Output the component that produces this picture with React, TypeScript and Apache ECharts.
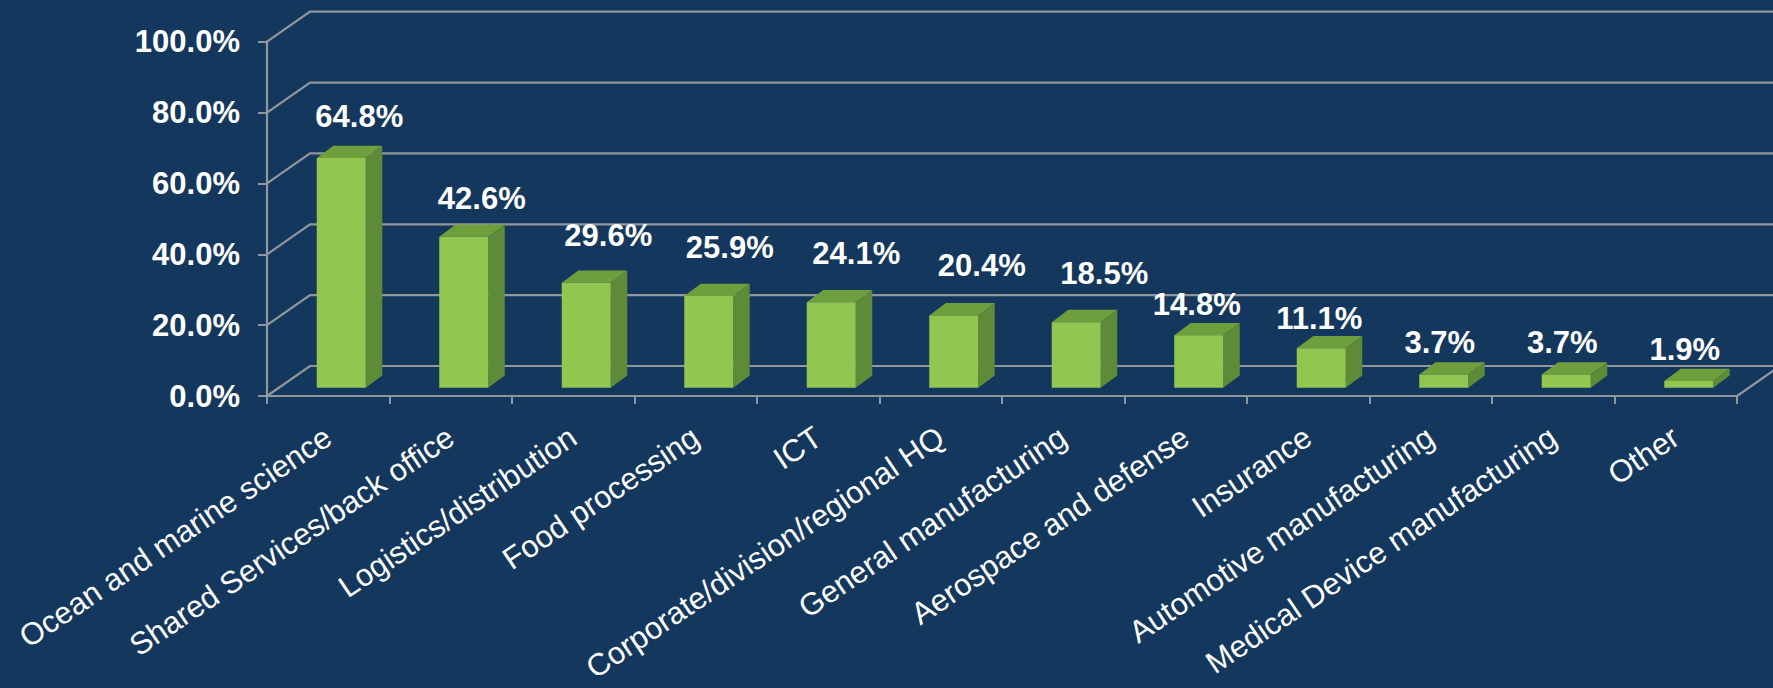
import React, { useEffect, useRef } from "react";
import * as echarts from "echarts";

const categories = [
  "Ocean and marine science",
  "Shared Services/back office",
  "Logistics/distribution",
  "Food processing",
  "ICT",
  "Corporate/division/regional HQ",
  "General manufacturing",
  "Aerospace and defense",
  "Insurance",
  "Automotive manufacturing",
  "Medical Device manufacturing",
  "Other",
];
const values = [64.8, 42.6, 29.6, 25.9, 24.1, 20.4, 18.5, 14.8, 11.1, 3.7, 3.7, 1.9];
const yTicks = [0, 20, 40, 60, 80, 100];

// label nudges (layout only)
const labelDX = [18, 18, 22, 21, 25, 28, 28, -2, -2, -4, -4, -4];
const labelDY = [-42, -38, -47, -48, -49, -50, -49, -31, -30, -32, -32, -31];

const FONT = '"Liberation Sans", Arial, sans-serif';
const BG = "#14375D";
const GRID_COLOR = "#9197 9D".replace(" ", "");
const WALL_DX = 43;
const WALL_DY = 30;
const FRONT_DX = 13;
const FRONT_DY = 8.3;
const DEPTH_DX = 16.5;
const DEPTH_DY = 12.3;

export default function App() {
  const ref = useRef<HTMLDivElement>(null);
  useEffect(() => {
    if (!ref.current) return;
    const chart = echarts.init(ref.current, undefined, { renderer: "svg" });
    const option: any = {
      animation: false,
      backgroundColor: BG,
      grid: { left: 267, right: 36, top: 41.7, bottom: 292, containLabel: false },
      xAxis: {
        type: "category",
        data: categories,
        boundaryGap: true,
        axisLine: { show: true, lineStyle: { color: GRID_COLOR, width: 2.2 } },
        axisTick: { show: true, length: 8, lineStyle: { color: GRID_COLOR, width: 2 } },
        axisLabel: {
          interval: 0,
          rotate: 34,
          margin: 38,
          color: "#ffffff",
          fontSize: 31,
          fontFamily: FONT,
        },
        splitLine: { show: false },
      },
      yAxis: {
        type: "value",
        min: 0,
        max: 100,
        interval: 20,
        axisLine: { show: true, lineStyle: { color: GRID_COLOR, width: 2.2 } },
        axisTick: { show: true, length: 9, lineStyle: { color: GRID_COLOR, width: 2 } },
        axisLabel: {
          margin: 27,
          color: "#ffffff",
          fontSize: 31,
          fontWeight: "bold",
          fontFamily: FONT,
          formatter: (v: number) => v.toFixed(1) + "%",
        },
        splitLine: { show: false },
      },
      series: [
        {
          type: "custom",
          z: 1,
          silent: true,
          clip: false,
          data: yTicks.map((t) => [0, t]),
          renderItem: (params: any, api: any) => {
            const cs = params.coordSys;
            const p = api.coord([0, api.value(1)]);
            const x0 = cs.x;
            const y = p[1];
            const children: any[] = [
              {
                type: "polyline",
                shape: {
                  points: [
                    [x0, y],
                    [x0 + WALL_DX, y - WALL_DY],
                    [cs.x + cs.width + WALL_DX + 20, y - WALL_DY],
                  ],
                },
                style: { stroke: GRID_COLOR, lineWidth: 2.2, fill: null },
              },
            ];
            if (api.value(1) === 0) {
              children.push({
                type: "line",
                shape: {
                  x1: cs.x + cs.width,
                  y1: y,
                  x2: cs.x + cs.width + WALL_DX,
                  y2: y - WALL_DY,
                },
                style: { stroke: GRID_COLOR, lineWidth: 2.2 },
              });
            }
            return { type: "group", children };
          },
        },
        {
          type: "custom",
          z: 3,
          clip: false,
          data: values.map((v, i) => [i, v]),
          renderItem: (params: any, api: any) => {
            const i = params.dataIndex;
            const v = api.value(1);
            const base = api.coord([api.value(0), 0]);
            const top = api.coord([api.value(0), v]);
            const band = api.size([1, 0])[0];
            const w = band * 0.4;
            const cx = base[0] + FRONT_DX;
            const by = base[1] - FRONT_DY;
            const ty = top[1] - FRONT_DY;
            const x1 = cx - w / 2;
            const x2 = cx + w / 2;
            return {
              type: "group",
              children: [
                {
                  type: "polygon",
                  shape: {
                    points: [
                      [x2, ty],
                      [x2 + DEPTH_DX, ty - DEPTH_DY],
                      [x2 + DEPTH_DX, by - DEPTH_DY],
                      [x2, by],
                    ],
                  },
                  style: { fill: "#5F8A37" },
                },
                {
                  type: "polygon",
                  shape: {
                    points: [
                      [x1, ty],
                      [x1 + DEPTH_DX, ty - DEPTH_DY],
                      [x2 + DEPTH_DX, ty - DEPTH_DY],
                      [x2, ty],
                    ],
                  },
                  style: { fill: "#6F9F3D" },
                },
                {
                  type: "rect",
                  shape: { x: x1, y: ty, width: w, height: by - ty },
                  style: { fill: "#93C650" },
                },
                {
                  type: "text",
                  x: cx + labelDX[i],
                  y: ty + labelDY[i],
                  style: {
                    text: v.toFixed(1) + "%",
                    fill: "#ffffff",
                    font: `bold 31px ${FONT}`,
                    align: "center",
                    verticalAlign: "middle",
                  },
                },
              ],
            };
          },
        },
      ],
    };
    chart.setOption(option);
    return () => chart.dispose();
  }, []);
  return (
    <div
      ref={ref}
      style={{ position: "fixed", left: 0, top: 0, width: 1773, height: 688, background: BG }}
    />
  );
}
